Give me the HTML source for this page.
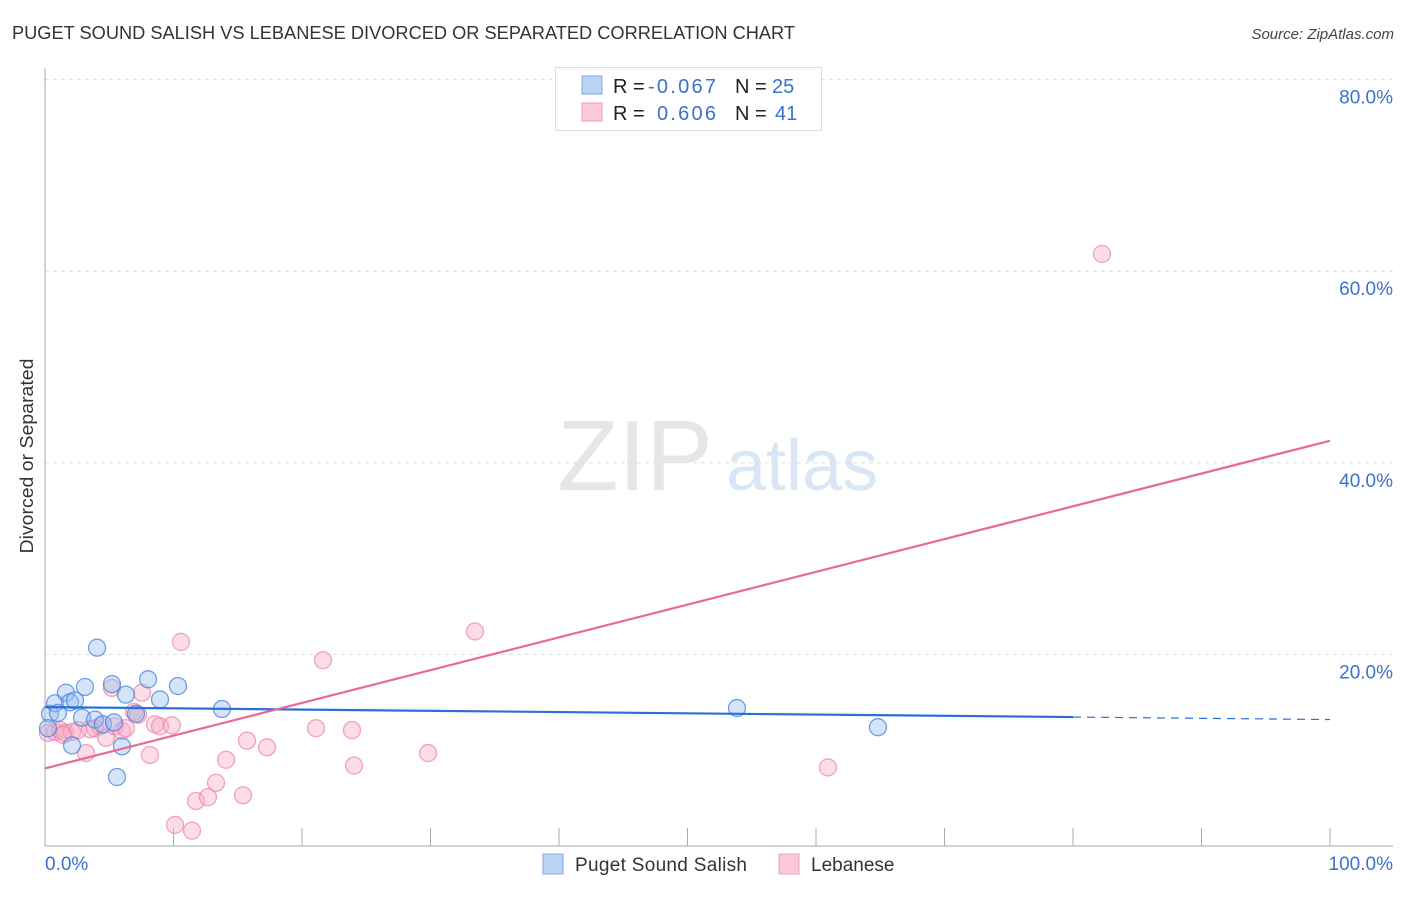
<!DOCTYPE html>
<html><head><meta charset="utf-8"><style>
body{margin:0;background:#fff;font-family:"Liberation Sans",sans-serif;}
svg text{font-family:"Liberation Sans",sans-serif;}
</style></head><body>
<svg id="chart" width="1406" height="892" xmlns="http://www.w3.org/2000/svg">
<text x="12" y="39" font-size="18" fill="#333" textLength="783" lengthAdjust="spacingAndGlyphs">PUGET SOUND SALISH VS LEBANESE DIVORCED OR SEPARATED CORRELATION CHART</text>
<text x="1394" y="39" font-size="15" fill="#444" text-anchor="end" font-style="italic">Source: ZipAtlas.com</text>
<text transform="translate(33,456) rotate(-90)" font-size="18" fill="#333" text-anchor="middle" textLength="195" lengthAdjust="spacingAndGlyphs">Divorced or Separated</text>
<g>
<text x="635" y="490" font-size="100" fill="#e6e6e6" font-family="Liberation Serif" text-anchor="middle">ZIP</text>
<text x="802" y="490" font-size="72" fill="#d8e6f6" text-anchor="middle">atlas</text>
</g>
<g id="grid"></g>
<g id="axes"></g>
<g id="marks"></g>
<g>
<rect x="555.5" y="67.5" width="266" height="63" fill="#fff" stroke="#ddd"/>
<rect x="582" y="76" width="20" height="18" fill="#b9d3f5" stroke="#7fa8e0"/>
<rect x="582" y="103" width="20" height="18" fill="#fbc9d8" stroke="#eea0b8"/>
<text x="613" y="93" font-size="20" fill="#222">R =</text>
<text x="648" y="93" font-size="20" fill="#3a72d0" textLength="68">-0.067</text>
<text x="735" y="93" font-size="20" fill="#222">N =</text>
<text x="772" y="93" font-size="20" fill="#3a72d0">25</text>
<text x="613" y="120" font-size="20" fill="#222">R =</text>
<text x="657" y="120" font-size="20" fill="#3a72d0" textLength="59">0.606</text>
<text x="735" y="120" font-size="20" fill="#222">N =</text>
<text x="775" y="120" font-size="20" fill="#3a72d0">41</text>
</g>
<g>
<rect x="543" y="854" width="20" height="20" fill="#b9d3f5" stroke="#7fa8e0"/>
<text x="575" y="871" font-size="19" fill="#333" textLength="172">Puget Sound Salish</text>
<rect x="779" y="854" width="20" height="20" fill="#fbc9d8" stroke="#eea0b8"/>
<text x="811" y="871" font-size="19" fill="#333">Lebanese</text>
</g>
</svg>
<script>
const yTicks=[20,40,60,80];
const yTickLabels=["20.0%","40.0%","60.0%","80.0%"];
const xLabels=["0.0%","100.0%"];
const blueX=[0.39,0.78,1.01,1.63,1.95,2.33,2.10,2.88,3.11,3.89,4.05,4.51,5.21,5.37,5.60,5.99,6.30,7.08,8.02,8.95,10.35,13.77,53.85,64.82,0.23];
const blueY=[13.8,14.9,13.9,16.0,15.0,15.2,10.5,13.4,16.6,13.2,20.7,12.7,16.9,12.9,7.2,10.4,15.8,13.8,17.4,15.3,16.7,14.3,14.4,12.4,12.3];
const pinkX=[0.23,0.78,1.17,1.56,2.10,2.57,3.19,3.89,4.28,4.75,5.21,5.45,5.99,6.30,6.93,7.55,8.17,8.56,8.95,9.88,10.58,11.44,10.12,11.75,12.68,13.31,14.09,15.41,15.72,17.28,21.09,21.63,23.89,24.05,29.81,33.46,60.93,82.26,1.40,3.50,7.24];
const pinkY=[11.8,11.9,12.1,11.8,11.9,12.1,9.7,12.3,12.5,11.3,16.5,12.5,12.0,12.3,14.0,16.0,9.5,12.7,12.5,12.6,21.3,1.6,2.2,4.7,5.1,6.6,9.0,5.3,11.0,10.3,12.3,19.4,12.1,8.4,9.7,22.4,8.2,61.8,11.6,12.2,13.7];
const blueTrend=[14.5,13.2];
const pinkTrend=[8.1,42.3];
const NS="http://www.w3.org/2000/svg";
const X0=45,X1=1330,Y0=846,PXY=9.58;
const sx=v=>X0+(X1-X0)*v/100;
const sy=v=>Y0-v*PXY;
function mk(tag,attrs,parent){const e=document.createElementNS(NS,tag);for(const k in attrs)e.setAttribute(k,attrs[k]);document.getElementById(parent).appendChild(e);return e;}
yTicks.forEach((t,i)=>{
 const l=mk('line',{x1:X0,x2:1393,y1:sy(t),y2:sy(t),stroke:'#ddd','stroke-dasharray':'4,4'},'grid');
 
 
 const tx=mk('text',{x:1393,y:sy(t)+24,'font-size':19,fill:'#3a72d0','text-anchor':'end'},'grid');
 tx.textContent=yTickLabels[i];
 
 
});
let a=mk('line',{x1:X0,x2:X0,y1:68,y2:Y0,stroke:'#aaa'},'axes');


a=mk('line',{x1:X0,x2:1393,y1:Y0,y2:Y0,stroke:'#aaa'},'axes');


for(let k=0;k<=10;k++){
 const t=mk('line',{x1:sx(k*10),x2:sx(k*10),y1:828,y2:Y0,stroke:'#aaa'},'axes');
 
 
}
let xl=mk('text',{x:X0,y:870,'font-size':19,fill:'#3a72d0'},'axes');xl.textContent=xLabels[0];


xl=mk('text',{x:1393,y:870,'font-size':19,fill:'#3a72d0','text-anchor':'end'},'axes');xl.textContent=xLabels[1];


pinkX.forEach((x,i)=>{
 const c=mk('circle',{cx:sx(x),cy:sy(pinkY[i]),r:8.5,fill:'rgba(248,170,195,0.4)',stroke:'rgba(235,130,165,0.7)','stroke-width':1.3},'marks');
 
 
});
blueX.forEach((x,i)=>{
 const c=mk('circle',{cx:sx(x),cy:sy(blueY[i]),r:8.5,fill:'rgba(150,190,240,0.4)',stroke:'rgba(70,130,220,0.75)','stroke-width':1.3},'marks');
 
 
});
const bAt=v=>blueTrend[0]+(blueTrend[1]-blueTrend[0])*v/100;
let ln=mk('line',{x1:sx(0),y1:sy(bAt(0)),x2:sx(80),y2:sy(bAt(80)),stroke:'#2a6fd6','stroke-width':2.2},'marks');


ln=mk('line',{x1:sx(80),y1:sy(bAt(80)),x2:sx(100),y2:sy(bAt(100)),stroke:'#2a6fd6','stroke-width':1.2,'stroke-dasharray':'8,6'},'marks');


ln=mk('line',{x1:sx(0),y1:sy(pinkTrend[0]),x2:sx(100),y2:sy(pinkTrend[1]),stroke:'#e8689a','stroke-width':2.2},'marks');


</script>
</body></html>
